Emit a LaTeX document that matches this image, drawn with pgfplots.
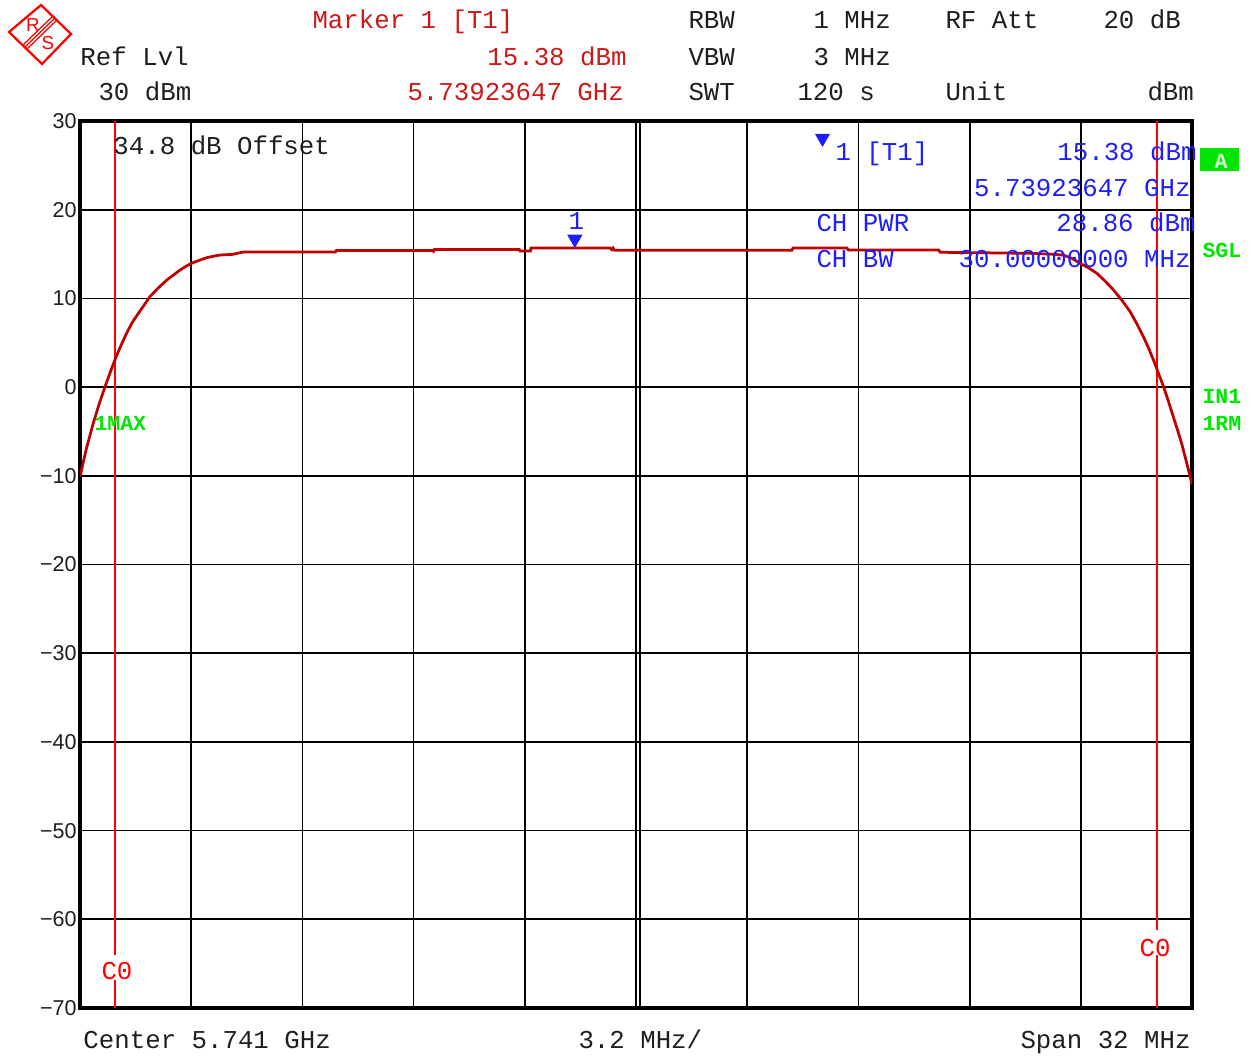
\documentclass[border=0pt]{standalone}
\usepackage{fontspec}
\usepackage{pgfplots}
\pgfplotsset{compat=1.18}
\usetikzlibrary{calc}
\newfontfamily\mono{Liberation Mono}
\newfontfamily\sans{Liberation Sans}
\definecolor{txt}{RGB}{30,30,30}
\definecolor{hdrred}{RGB}{204,24,24}
\definecolor{trace}{RGB}{192,0,0}
\definecolor{chred}{RGB}{255,0,0}
\definecolor{mkblue}{RGB}{30,30,250}
\definecolor{grn}{RGB}{0,230,0}
\definecolor{lgrn}{RGB}{215,255,215}
\newcommand{\mf}{\mono\fontsize{10.3}{12}\selectfont}
\newcommand{\gf}{\mono\bfseries\fontsize{8.6}{10}\selectfont}

\pgfplotstableread{
x y
-16.00 -10.1
-15.82 -7.0
-15.62 -4.08
-15.45 -1.93
-15.28 0.05
-15.12 1.77
-14.96 3.43
-14.80 4.87
-14.66 6.07
-14.50 7.27
-14.32 8.32
-14.15 9.27
-13.99 10.19
-13.75 11.17
-13.50 12.08
-13.30 12.67
-13.12 13.20
-12.95 13.62
-12.79 13.96
-12.55 14.32
-12.35 14.59
-12.15 14.77
-11.97 14.89
-11.60 14.97
-11.30 15.23
-8.65 15.23
-8.62 15.40
-5.86 15.40
-5.83 15.30
-5.80 15.51
-3.36 15.51
-3.34 15.34
-3.04 15.34
-3.02 15.68
-0.74 15.68
-0.70 15.50
-0.66 15.68
-0.62 15.42
4.48 15.42
4.52 15.68
6.07 15.68
6.11 15.45
8.71 15.45
8.75 15.20
11.34 15.08
11.90 15.00
12.30 14.89
12.55 14.50
12.78 13.96
13.02 13.45
13.26 12.83
13.50 11.95
13.74 10.95
13.98 9.80
14.22 8.50
14.41 7.15
14.60 5.68
14.75 4.40
14.89 3.05
15.03 1.60
15.18 0.05
15.32 -1.60
15.46 -3.33
15.58 -4.80
15.70 -6.34
15.85 -8.60
16.00 -10.95
}\trace

\begin{document}
\begin{tikzpicture}
\begin{axis}[name=ax, scale only axis, width=444.8pt, height=354.8pt,
  xmin=-16, xmax=16, ymin=-70, ymax=30,
  xtick={-16,-12.8,-9.6,-6.4,-3.2,0,3.2,6.4,9.6,12.8,16},
  xticklabels={},
  ytick={-70,-60,-50,-40,-30,-20,-10,0,10,20,30},
  yticklabels={−70,−60,−50,−40,−30,−20,−10,0,10,20,30},
  yticklabel style={font=\sans\fontsize{8.6}{9}\selectfont, text=txt, inner sep=0pt, xshift=-1.2pt},
  major tick length=0pt,
  grid=major, grid style={black, line width=0.7pt},
  axis line style={black, line width=1.3pt},
  clip=true]
\draw[black, line width=0.7pt] (axis cs:0.12,-70) -- (axis cs:0.12,30);
\addplot[chred, line width=0.8pt] coordinates {(-15,30) (-15,-64.0)};
\addplot[chred, line width=0.8pt] coordinates {(-15,-66.8) (-15,-70)};
\addplot[chred, line width=0.8pt] coordinates {(15,30) (15,-61.2)};
\addplot[chred, line width=0.8pt] coordinates {(15,-64.0) (15,-70)};
\addplot[trace, line width=1.1pt] table[x=x,y=y] {\trace};
\addplot[only marks, mark=triangle*, mark size=3.2pt,
  mark options={yshift=3.6pt, rotate=180, fill=mkblue, draw=mkblue}]
  coordinates {(-1.76,15.68)};
\node[mkblue, font=\mf, anchor=mid] at (axis cs:-1.72,15.68) [yshift=9.6pt] {1};
\end{axis}
\coordinate (O) at ($(ax.south west)+(-32pt,403.2pt)$);
\begin{scope}[shift={(O)}, x=0.4pt, y=-0.4pt]
% logo
\draw[chred, line width=0.9pt] (9,32) -- (41,5) -- (71,34) -- (42,64) -- cycle;
\draw[chred, line width=0.5pt] (25,47) -- (55,18);
\draw[chred, line width=0.5pt] (27,49) -- (57,20);
\draw[chred, line width=0.5pt] (23,45) -- (53,16);
\node[chred, font=\sans\fontsize{7.5}{8}\selectfont] at (33,25) {R};
\node[chred, font=\sans\fontsize{7.5}{8}\selectfont] at (48,43) {S};
% header
\node[hdrred, font=\mf, anchor=mid west, inner sep=0pt] at (312,23) {Marker 1 [T1]};
\node[txt, font=\mf, anchor=mid west, inner sep=0pt] at (80,60) {Ref Lvl};
\node[hdrred, font=\mf, anchor=mid east, inner sep=0pt] at (627,60) {15.38 dBm};
\node[txt, font=\mf, anchor=mid west, inner sep=0pt] at (98,95) {30 dBm};
\node[hdrred, font=\mf, anchor=mid west, inner sep=0pt] at (407,95) {5.73923647 GHz};
\node[txt, font=\mf, anchor=mid west, inner sep=0pt] at (688,23) {RBW};
\node[txt, font=\mf, anchor=mid west, inner sep=0pt] at (813,23) {1 MHz};
\node[txt, font=\mf, anchor=mid west, inner sep=0pt] at (945,23) {RF Att};
\node[txt, font=\mf, anchor=mid west, inner sep=0pt] at (1103,23) {20 dB};
\node[txt, font=\mf, anchor=mid west, inner sep=0pt] at (688,60) {VBW};
\node[txt, font=\mf, anchor=mid west, inner sep=0pt] at (813,60) {3 MHz};
\node[txt, font=\mf, anchor=mid west, inner sep=0pt] at (688,95) {SWT};
\node[txt, font=\mf, anchor=mid west, inner sep=0pt] at (797,95) {120 s};
\node[txt, font=\mf, anchor=mid west, inner sep=0pt] at (945,95) {Unit};
\node[txt, font=\mf, anchor=mid west, inner sep=0pt] at (1147,95) {dBm};
% in-plot
\node[txt, font=\mf, anchor=mid west, inner sep=0pt] at (113,149) {34.8 dB Offset};
\fill[mkblue] (815,134) -- (830,134) -- (822.5,147) -- cycle;
\node[mkblue, font=\mf, anchor=mid west, inner sep=0pt] at (835,155) {1 [T1]};
\node[mkblue, font=\mf, anchor=mid east, inner sep=0pt] at (1197,155) {15.38 dBm};
\node[mkblue, font=\mf, anchor=mid east, inner sep=0pt] at (1191,191) {5.73923647 GHz};
\node[mkblue, font=\mf, anchor=mid west, inner sep=0pt] at (816,226) {CH PWR};
\node[mkblue, font=\mf, anchor=mid east, inner sep=0pt] at (1196,226) {28.86 dBm};
\node[mkblue, font=\mf, anchor=mid west, inner sep=0pt] at (816,262) {CH BW};
\node[mkblue, font=\mf, anchor=mid east, inner sep=0pt] at (1191,262) {30.00000000 MHz};
% green side labels
\fill[grn] (1200,148) rectangle (1239,171);
\node[lgrn, font=\gf, anchor=mid, inner sep=0pt] at (1221,163) {A};
\node[grn, font=\gf, anchor=mid west, inner sep=0pt] at (1202,252) {SGL};
\node[grn, font=\gf, anchor=mid west, inner sep=0pt] at (1202,398) {IN1};
\node[grn, font=\gf, anchor=mid west, inner sep=0pt] at (1202,425) {1RM};
\node[grn, font=\gf, anchor=mid west, inner sep=0pt] at (94,425) {1MAX};
% channel labels
\node[chred, font=\mf, anchor=mid, inner sep=0pt] at (117,974) {C0};
\node[chred, font=\mf, anchor=mid, inner sep=0pt] at (1155,951) {C0};
% bottom
\node[txt, font=\mf, anchor=mid west, inner sep=0pt] at (83,1043) {Center 5.741 GHz};
\node[txt, font=\mf, anchor=mid west, inner sep=0pt] at (578,1043) {3.2 MHz/};
\node[txt, font=\mf, anchor=mid east, inner sep=0pt] at (1191,1043) {Span 32 MHz};
\pgfresetboundingbox
\useasboundingbox (0,0) rectangle (1251,1055);
\end{scope}
\end{tikzpicture}
\end{document}
